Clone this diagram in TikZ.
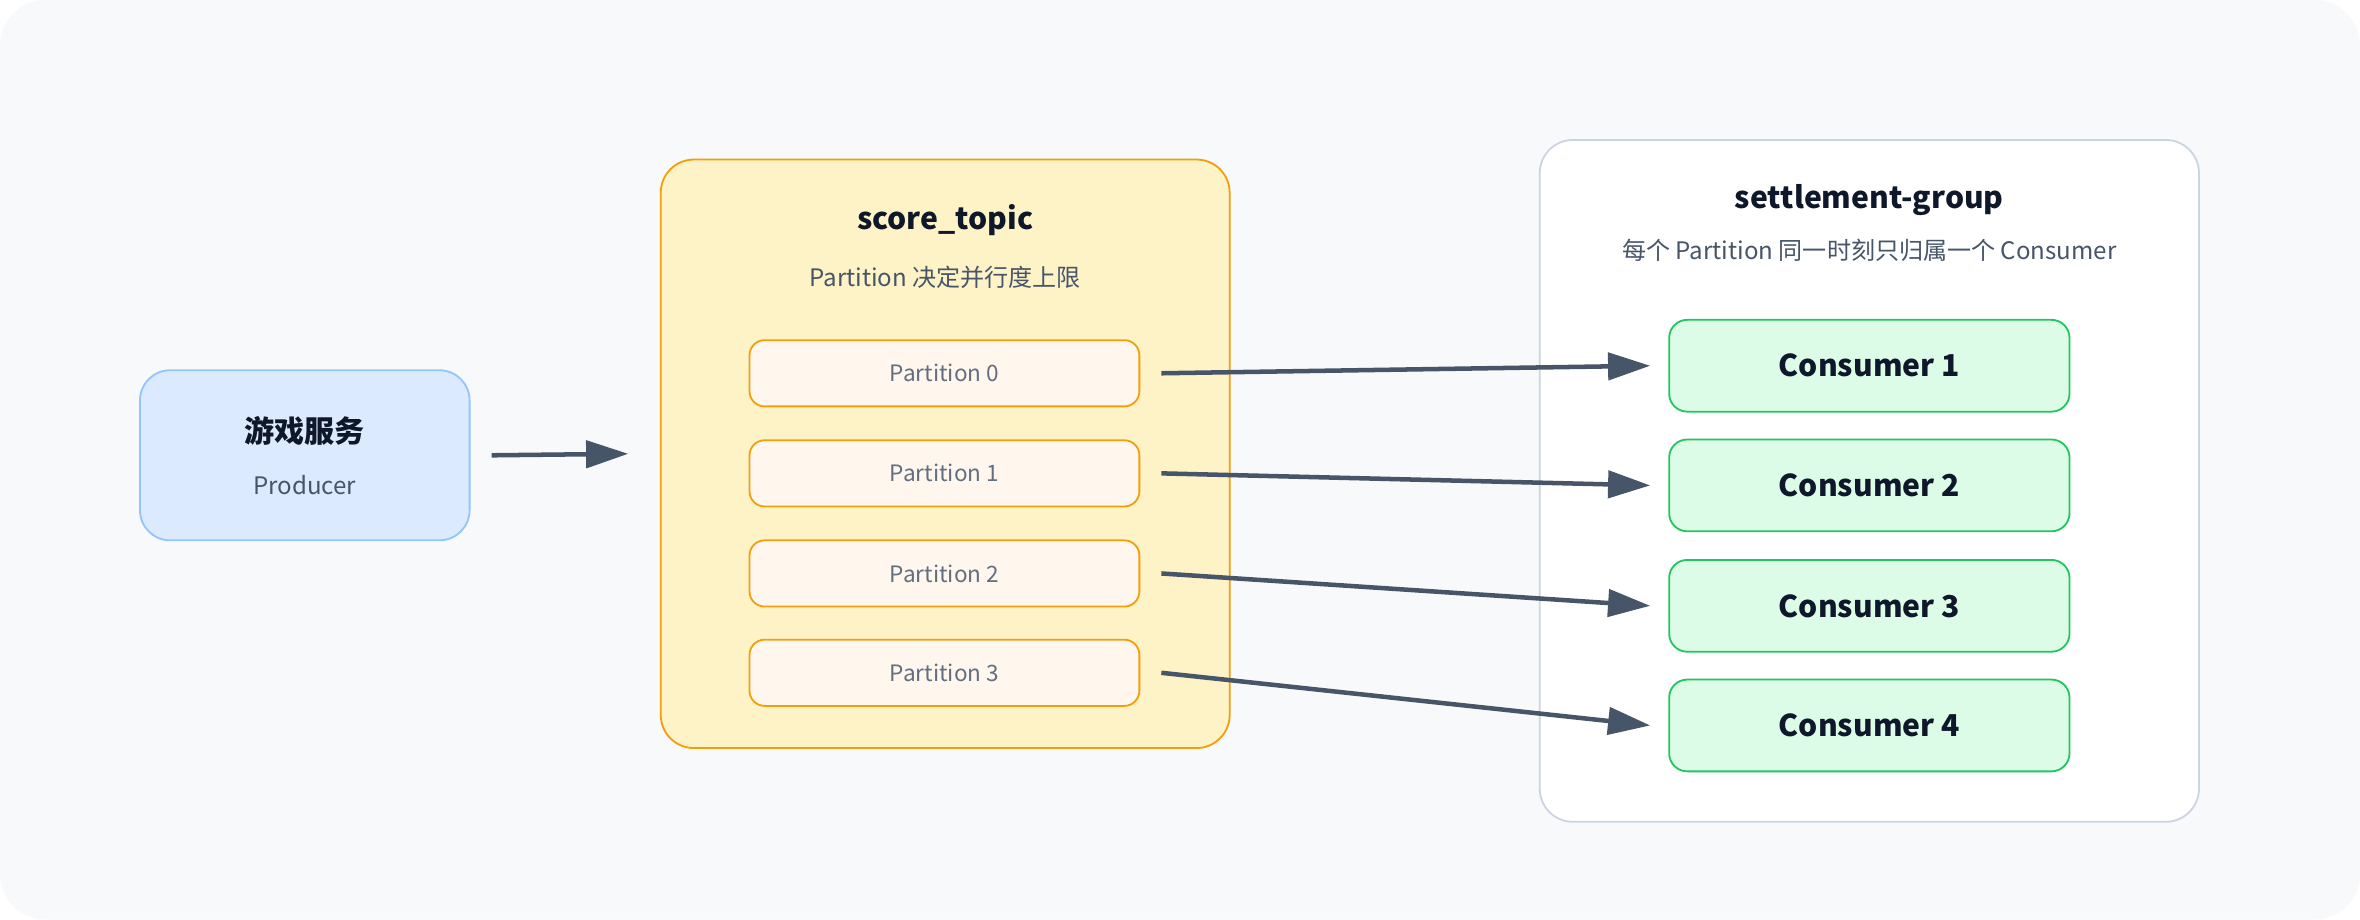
\documentclass[tikz,border=0pt]{standalone}
\usepackage{fontspec}
\setmainfont{Noto Sans CJK SC}
\usepackage{tikz}
\usetikzlibrary{arrows.meta,positioning}

\definecolor{bgc}{HTML}{F8F9FB}
\definecolor{prodfill}{HTML}{DBEAFE}
\definecolor{proddraw}{HTML}{93C5FD}
\definecolor{topicfill}{HTML}{FEF3C7}
\definecolor{topicdraw}{HTML}{F59E0B}
\definecolor{partfill}{HTML}{FFF7ED}
\definecolor{groupdraw}{HTML}{CBD5E1}
\definecolor{consfill}{HTML}{DCFCE7}
\definecolor{consdraw}{HTML}{22C55E}
\definecolor{ink}{HTML}{0F172A}
\definecolor{sub}{HTML}{475569}
\definecolor{arrowc}{HTML}{475569}

\tikzset{
  box/.style={draw, line width=0.6pt, inner sep=0pt},
  title/.style={font=\fontsize{10}{12}\selectfont\bfseries, text=ink},
  subtitle/.style={font=\fontsize{8}{10}\selectfont, text=sub},
  part/.style={box, fill=partfill, draw=topicdraw, rounded corners=5pt,
    minimum width=129.5pt, minimum height=22pt,
    font=\fontsize{7.5}{9}\selectfont, text=sub!85},
  cons/.style={box, fill=consfill, draw=consdraw, rounded corners=6pt,
    minimum width=133pt, minimum height=30.5pt,
    font=\fontsize{10}{12}\selectfont\bfseries, text=ink},
  flow/.style={-{Triangle[length=14pt,width=9pt]}, draw=arrowc, line width=1.5pt}
}

\begin{document}
\begin{tikzpicture}[x=0.5pt,y=-0.5pt]
  \useasboundingbox (0,0) rectangle (1568,611);
  \fill[bgc, rounded corners=15pt] (0,0) rectangle (1568,611);

  % producer
  \node[box, fill=prodfill, draw=proddraw, rounded corners=10pt,
        minimum width=109.5pt, minimum height=56.5pt] (prod) at (202.5,302.5) {};
  \node[title] at (202.5,286) {游戏服务};
  \node[subtitle] at (202.5,322) {Producer};

  % topic
  \node[box, fill=topicfill, draw=topicdraw, rounded corners=11pt,
        minimum width=189pt, minimum height=195.5pt] (topic) at (628,301.5) {};
  \node[title] at (628,146) {score\_topic};
  \node[subtitle] at (628,184) {Partition 决定并行度上限};
  \node[part] (p0) at (627.5,248)   {Partition 0};
  \node[part] (p1) at (627.5,314.5) {Partition 1};
  \node[part] (p2) at (627.5,381)   {Partition 2};
  \node[part] (p3) at (627.5,447)   {Partition 3};

  % consumer group
  \node[box, fill=white, draw=groupdraw, rounded corners=11pt,
        minimum width=219pt, minimum height=226.5pt] (group) at (1242,319.5) {};
  \node[title] at (1242,133) {settlement-group};
  \node[subtitle] at (1242,166) {每个 Partition 同一时刻只归属一个 Consumer};
  \node[cons] (c1) at (1242,243)   {Consumer 1};
  \node[cons] (c2) at (1242,322.5) {Consumer 2};
  \node[cons] (c3) at (1242,402.5) {Consumer 3};
  \node[cons] (c4) at (1242,482)   {Consumer 4};

  % arrows
  \draw[flow] ([xshift=7pt]prod.east) -- ([xshift=-10.5pt]topic.west);
  \draw[flow] ([xshift=7pt]p0.east) -- ([xshift=-6pt]c1.west);
  \draw[flow] ([xshift=7pt]p1.east) -- ([xshift=-6pt]c2.west);
  \draw[flow] ([xshift=7pt]p2.east) -- ([xshift=-6pt]c3.west);
  \draw[flow] ([xshift=7pt]p3.east) -- ([xshift=-6pt]c4.west);
\end{tikzpicture}
\end{document}
